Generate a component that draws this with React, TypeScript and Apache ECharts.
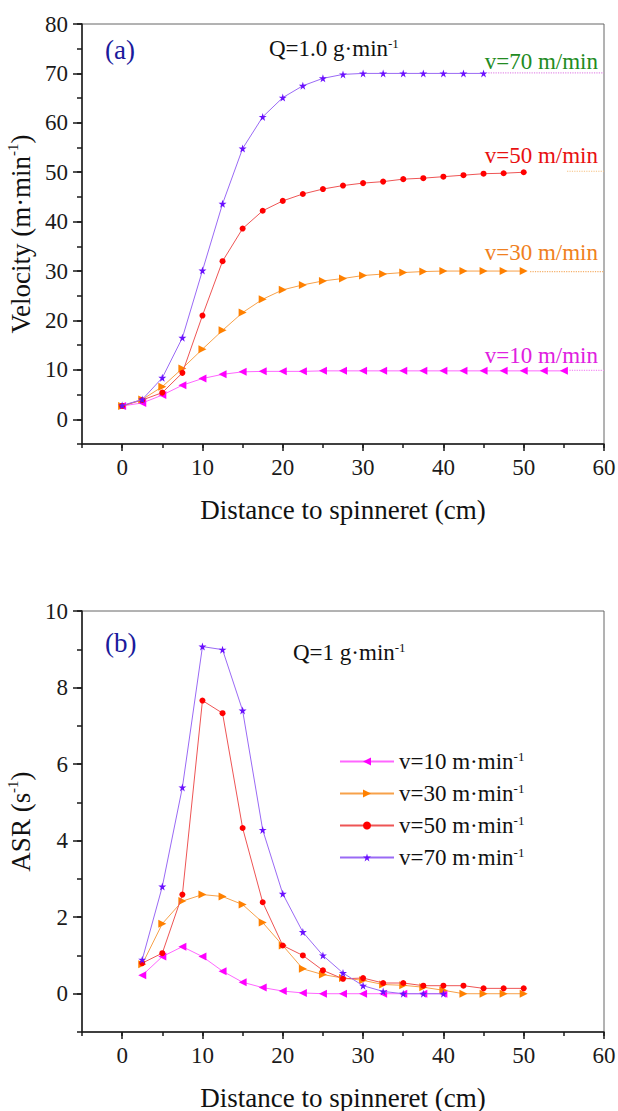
import React, { useEffect, useRef } from 'react';
import * as echarts from 'echarts';

const FONT = 'Liberation Serif';

// ---------- data: panel (a) velocity ----------
const distanceA = [0, 2.5, 5, 7.5, 10, 12.5, 15, 17.5, 20, 22.5, 25, 27.5, 30, 32.5, 35, 37.5, 40, 42.5, 45, 47.5, 50, 52.5, 55];
const velocity10 = [2.7, 3.3, 4.9, 6.9, 8.25, 9.1, 9.6, 9.7, 9.7, 9.7, 9.8, 9.8, 9.8, 9.8, 9.8, 9.8, 9.8, 9.8, 9.8, 9.8, 9.8, 9.8, 9.8];
const velocity30 = [2.7, 4.0, 6.6, 10.3, 14.2, 18.0, 21.6, 24.3, 26.2, 27.2, 28.0, 28.5, 29.1, 29.4, 29.7, 29.9, 30, 30, 30, 30, 30];
const velocity50 = [2.7, 3.9, 5.4, 9.4, 21.0, 32.0, 38.6, 42.2, 44.2, 45.6, 46.6, 47.3, 47.8, 48.1, 48.6, 48.8, 49.1, 49.4, 49.7, 49.8, 50.0];
const velocity70 = [2.8, 4.0, 8.4, 16.5, 30.1, 43.6, 54.8, 61.2, 65.1, 67.5, 69.0, 69.8, 70, 70, 70, 70, 70, 70, 70];
// dotted guide lines: [xStart, xEnd, y]
const guides = [[55.7, 60, 9.9], [50.8, 60, 29.9], [55.4, 60, 50.2], [45.6, 60, 70.1]];

// ---------- data: panel (b) ASR ----------
const distanceB = [2.5, 5, 7.5, 10, 12.5, 15, 17.5, 20, 22.5, 25, 27.5, 30, 32.5, 35, 37.5, 40, 42.5, 45, 47.5, 50];
const asr10 = [0.48, 0.97, 1.23, 0.97, 0.59, 0.30, 0.16, 0.07, 0.02, 0, 0, 0, 0, 0, 0, 0];
const asr30 = [0.77, 1.83, 2.42, 2.59, 2.54, 2.33, 1.86, 1.26, 0.65, 0.50, 0.41, 0.35, 0.24, 0.22, 0.17, 0.09, 0, 0, 0, 0];
const asr50 = [0.80, 1.06, 2.59, 7.66, 7.33, 4.33, 2.39, 1.26, 1.0, 0.61, 0.39, 0.41, 0.28, 0.28, 0.21, 0.21, 0.21, 0.14, 0.14, 0.14];
const asr70 = [0.89, 2.80, 5.39, 9.07, 8.99, 7.40, 4.28, 2.61, 1.61, 1.0, 0.54, 0.21, 0.06, 0, 0, 0];

const speeds = [10, 30, 50, 70];
const xTicks = [0, 10, 20, 30, 40, 50, 60];
const yTicksA = [0, 10, 20, 30, 40, 50, 60, 70, 80];
const yTicksB = [0, 2, 4, 6, 8, 10];

// ---------- styles ----------
const markerColors = ['#ff00ff', '#ff8000', '#ff0000', '#6a10ff'];
const lineColors = ['#ff66ff', '#f7a14a', '#ee5555', '#9a6af5'];
const guideColors = ['#f38ef3', '#f5b06a', '#f5c080', '#e38ee8'];
const labelColors = ['#e020e0', '#f08020', '#e81010', '#228b22'];
const STAR = 'path://M50,2 L61,37 L98,37 L68,59 L79,95 L50,73 L21,95 L32,59 L2,37 L39,37 Z';
const symbols = ['triangle', 'triangle', 'circle', STAR];
const symbolRotates = [90, -90, 0, 0];
const symbolSizes = [8, 8, 6, 8];

const pairs = (xs: number[], ys: number[]) => ys.map((y, i) => [xs[i], y]);

const AX = '#1a1a1a';

function mainX(gridIndex: number, nameGap: number) {
  return {
    type: 'value', gridIndex, min: -5, max: 60, interval: 5, position: 'bottom',
    name: 'Distance to spinneret (cm)', nameLocation: 'middle', nameGap,
    nameTextStyle: { fontFamily: FONT, fontSize: 27, color: '#111' },
    axisLine: { show: true, onZero: false, lineStyle: { color: AX, width: 1.5 } },
    axisTick: { show: true, length: 4, lineStyle: { color: AX, width: 1.5 } },
    axisLabel: { fontFamily: FONT, fontSize: 23, color: '#1a1a1a', margin: 12,
      formatter: (v: number) => (xTicks.includes(v) ? String(v) : '') },
    splitLine: { show: false },
  };
}
function majorX(gridIndex: number) {
  return {
    type: 'value', gridIndex, min: -5, max: 60, position: 'bottom',
    axisLine: { show: false, onZero: false },
    axisTick: { show: true, length: 7, customValues: xTicks, lineStyle: { color: AX, width: 1.5 } },
    axisLabel: { show: false }, splitLine: { show: false },
  };
}
function mainY(gridIndex: number, min: number, max: number, interval: number, ticks: number[], name: string) {
  return {
    type: 'value', gridIndex, min, max, interval, position: 'left',
    name, nameLocation: 'middle', nameGap: 42, nameRotate: 90,
    nameTextStyle: {
      fontFamily: FONT, fontSize: 27, color: '#111',
      rich: {
        a: { fontFamily: FONT, fontSize: 27, color: '#111', lineHeight: 30 },
        s: { fontFamily: FONT, fontSize: 15, color: '#111', verticalAlign: 'top', lineHeight: 15 },
      },
    },
    axisLine: { show: true, onZero: false, lineStyle: { color: AX, width: 1.5 } },
    axisTick: { show: true, length: 5, lineStyle: { color: AX, width: 1.5 } },
    axisLabel: { fontFamily: FONT, fontSize: 23, color: '#1a1a1a', margin: 14,
      formatter: (v: number) => (ticks.includes(v) ? String(v) : '') },
    splitLine: { show: false },
  };
}
function majorY(gridIndex: number, min: number, max: number, ticks: number[]) {
  return {
    type: 'value', gridIndex, min, max, position: 'left',
    axisLine: { show: false, onZero: false },
    axisTick: { show: true, length: 9, customValues: ticks, lineStyle: { color: AX, width: 1.5 } },
    axisLabel: { show: false }, splitLine: { show: false },
  };
}

const velSets = [velocity10, velocity30, velocity50, velocity70];
const asrSets = [asr10, asr30, asr50, asr70];
const legendNames = speeds.map((s) => `v=${s} m·min-1`);

function curve(name: string, i: number, data: number[][], xi: number, yi: number) {
  return {
    name, type: 'line', xAxisIndex: xi, yAxisIndex: yi, data,
    symbol: symbols[i], symbolRotate: symbolRotates[i], symbolSize: symbolSizes[i],
    showSymbol: true, smooth: false, z: 3 + i,
    itemStyle: { color: markerColors[i] },
    lineStyle: { color: lineColors[i], width: 1 },
  };
}

const series: any[] = [];
guides.forEach((g, i) => {
  series.push({
    name: `guide ${speeds[i]}`, type: 'line', xAxisIndex: 0, yAxisIndex: 0,
    data: [[g[0], g[2]], [g[1], g[2]]], symbol: 'none', silent: true, z: 2,
    lineStyle: { color: guideColors[i], width: 1.2, type: 'dotted' },
  });
});
velSets.forEach((v, i) => series.push(curve(`Velocity v=${speeds[i]} m/min`, i, pairs(distanceA, v), 0, 0)));
asrSets.forEach((v, i) => series.push(curve(legendNames[i], i, pairs(distanceB, v), 1, 1)));

const supRich = (size: number, color: string) => ({
  a: { fontFamily: FONT, fontSize: size, fill: color, lineHeight: size },
  s: { fontFamily: FONT, fontSize: Math.round(size * 0.55), fill: color, verticalAlign: 'top', lineHeight: Math.round(size * 0.55) },
});

function txt(x: number, y: number, text: string, size: number, color: string, align = 'left', rich?: any) {
  return {
    type: 'text', x, y, silent: true, z: 20,
    style: {
      text, fill: color, fontFamily: FONT, fontSize: size,
      align, verticalAlign: 'middle',
      ...(rich ? { rich } : {}),
    },
  };
}

const graphics = [
  txt(105, 50, '(a)', 27, '#1a1a9c'),
  txt(269, 48, '{a|Q=1.0 g·min}{s|-1}', 23, '#111', 'left', supRich(23, '#111')),
  ...speeds.map((s, i) => txt(598, [355, 252, 155, 61][i], `v=${s} m/min`, 23, labelColors[i], 'right')),
  txt(105, 643, '(b)', 27, '#1a1a9c'),
  txt(293, 652, '{a|Q=1 g·min}{s|-1}', 23, '#111', 'left', supRich(23, '#111')),
];

const option: any = {
  animation: false,
  backgroundColor: '#ffffff',
  textStyle: { fontFamily: FONT },
  grid: [
    { left: 82, top: 24, width: 522, height: 420, show: true, borderColor: '#666', borderWidth: 1, backgroundColor: 'transparent', containLabel: false, outerBoundsMode: 'none' },
    { left: 82, top: 611, width: 522, height: 421, show: true, borderColor: '#666', borderWidth: 1, backgroundColor: 'transparent', containLabel: false, outerBoundsMode: 'none' },
  ],
  xAxis: [mainX(0, 52), mainX(1, 52), majorX(0), majorX(1)],
  yAxis: [
    mainY(0, -5, 80, 5, yTicksA, '{a|Velocity (m·min}{s|-1}{a|)}'),
    mainY(1, -1, 10, 1, yTicksB, '{a|ASR (s}{s|-1}{a|)}'),
    majorY(0, -5, 80, yTicksA),
    majorY(1, -1, 10, yTicksB),
  ],
  legend: {
    data: legendNames, orient: 'vertical', left: 339, top: 750, padding: 0,
    itemWidth: 54, itemHeight: 10, itemGap: 9,
    formatter: (n: string) => `{a|${n.slice(0, -2)}}{s|-1}`,
    textStyle: {
      fontFamily: FONT, fontSize: 23, color: '#111',
      rich: {
        a: { fontFamily: FONT, fontSize: 23, color: '#111', lineHeight: 23 },
        s: { fontFamily: FONT, fontSize: 13, color: '#111', verticalAlign: 'top', lineHeight: 13 },
      },
    },
  },
  graphic: { elements: graphics },
  series,
};

export default function App() {
  const ref = useRef<HTMLDivElement>(null);
  useEffect(() => {
    document.body.style.margin = '0';
    const chart = echarts.init(ref.current as HTMLDivElement, null, { renderer: 'svg' });
    chart.setOption(option);
    return () => chart.dispose();
  }, []);
  return <div ref={ref} style={{ width: 618, height: 1111 }} />;
}
